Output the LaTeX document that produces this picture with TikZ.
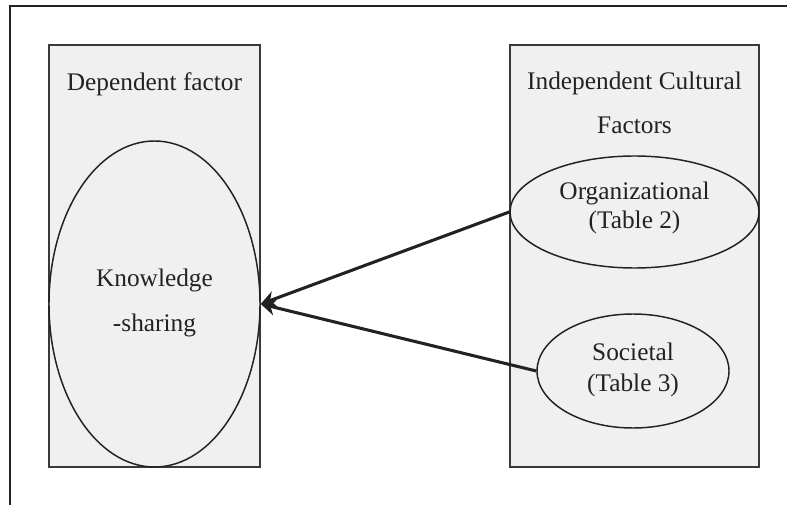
\documentclass[tikz,border=0pt]{standalone}
\usepackage{fontspec}
\setmainfont{Liberation Serif}
\usetikzlibrary{shapes.geometric,arrows.meta}
\definecolor{panelfill}{HTML}{F0F0F0}
\definecolor{ink}{HTML}{222222}
\definecolor{panelline}{HTML}{3A3A3A}
\begin{document}
\begin{tikzpicture}[x=0.75pt,y=-0.75pt,
  panel/.style={draw=panelline,line width=1.5pt,fill=panelfill,rectangle,inner sep=0pt},
  factor/.style={draw=ink,line width=1.1pt,fill=panelfill,ellipse,inner sep=0pt},
  label/.style={text=ink,font=\fontsize{19pt}{22pt}\selectfont,anchor=base,inner sep=0pt},
  link/.style={draw=ink,line width=2.3pt,-{Stealth[length=11pt,width=12pt]}}]
\useasboundingbox (0,0) rectangle (787,505);
% open frame: top and left edges only
\coordinate (frameTL) at (10,6);
\coordinate (frameTR) at (787,6);
\coordinate (frameBL) at (10,505);
\draw[ink,line width=1.8pt] (frameTR) -- (frameTL) -- (frameBL);
% panels
\node[panel,minimum width=158.25pt,minimum height=316.5pt] (leftpanel) at (154.5,256) {};
\node[panel,minimum width=186.75pt,minimum height=316.5pt] (rightpanel) at (634.5,256) {};
% factors
\node[factor,minimum width=158.25pt,minimum height=244.5pt] (knowledge) at (154.5,304) {};
\node[factor,minimum width=186.75pt,minimum height=84pt] (org) at (634.5,212) {};
\node[factor,minimum width=144pt,minimum height=85.5pt] (soc) at (633,371) {};
% headings
\node[label] (dephead) at (154.5,91) {Dependent factor};
\node[label] (indhead1) at (634.5,90) {Independent Cultural};
\node[label] (indhead2) at (634.5,134) {Factors};
% factor texts
\node[label] (kn1) at (154.5,287) {Knowledge};
\node[label] (kn2) at (154.5,331) {-sharing};
\node[label] (org1) at (634.5,200) {Organizational};
\node[label] (org2) at (634.5,229) {(Table 2)};
\node[label] (soc1) at (633,360) {Societal};
\node[label] (soc2) at (633,391) {(Table 3)};
% influences
\draw[link] (org.west) -- (knowledge.east);
\draw[link] (soc.west) -- (knowledge.east);
\end{tikzpicture}
\end{document}
